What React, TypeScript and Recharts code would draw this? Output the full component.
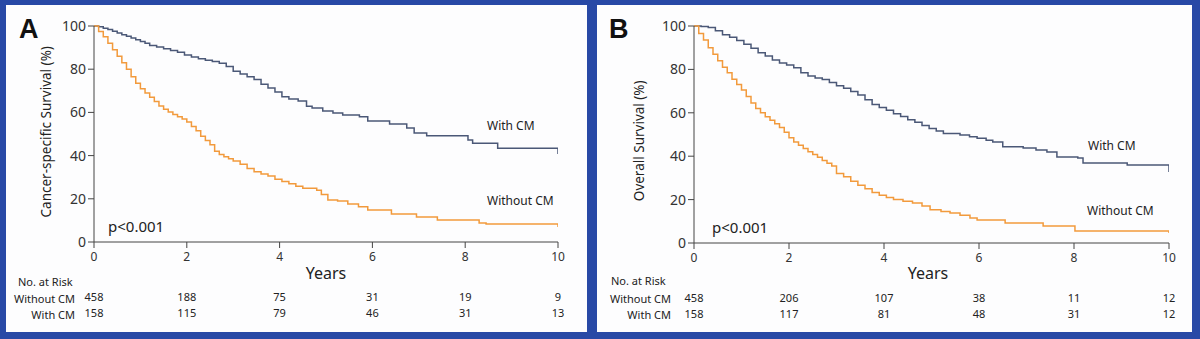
// Kaplan-Meier curves: cancer-specific (A) and overall (B) survival, with/without CM.

import { LineChart, Line, XAxis, YAxis } from 'recharts';

const yearTicks = [0, 2, 4, 6, 8, 10];
const pctTicks = [0, 20, 40, 60, 80, 100];

// Panel A: cancer-specific survival
const aWithT = [0, 0.1, 0.2, 0.3, 0.4, 0.5, 0.6, 0.7, 0.8, 0.9, 1.0, 1.1, 1.2, 1.35, 1.5, 1.65, 1.8, 1.95, 2.1, 2.25, 2.4, 2.55, 2.7, 2.85, 3.0, 3.15, 3.3, 3.45, 3.6, 3.75, 3.9, 4.05, 4.2, 4.4, 4.58, 4.7, 4.93, 5.15, 5.36, 5.72, 5.9, 6.37, 6.74, 6.9, 7.17, 8.06, 8.16, 8.7, 10];
const aWithS = [100, 99.6, 99, 98.4, 97.6, 96.8, 96, 95.2, 94.4, 93.6, 92.8, 92, 91, 90.3, 89.5, 88.6, 87.8, 86.6, 85.6, 84.8, 84.2, 83.6, 82.8, 81.3, 79, 77.8, 76.5, 75.2, 73, 71.3, 69.5, 67.2, 66.2, 65.3, 62.8, 62, 60.6, 59.7, 58.8, 58, 56, 54.6, 52.8, 50.5, 49.2, 47.2, 45.7, 43.4, 40.7];

const aWithoutT = [0, 0.1, 0.2, 0.3, 0.4, 0.5, 0.6, 0.7, 0.8, 0.9, 1.0, 1.1, 1.2, 1.3, 1.4, 1.5, 1.6, 1.7, 1.8, 1.9, 2.0, 2.1, 2.2, 2.3, 2.4, 2.5, 2.6, 2.7, 2.8, 2.9, 3.0, 3.15, 3.3, 3.45, 3.6, 3.75, 3.9, 4.05, 4.2, 4.35, 4.5, 4.8, 4.9, 5.04, 5.25, 5.47, 5.7, 5.9, 6.41, 6.95, 7.4, 8.3, 8.45, 10];
const aWithoutS = [100, 97.5, 95, 92, 89, 86, 83, 80, 76.5, 73.5, 71, 69, 67, 65, 63, 61.5, 60.2, 59, 58, 57, 55.5, 53.5, 51.5, 49, 47, 45, 42, 40.5, 39.5, 38.5, 37.5, 36, 34, 32.5, 31.5, 30.5, 29, 28, 27, 25.8, 24.9, 24, 22, 19.5, 19, 17.6, 16.3, 14.8, 13, 11.6, 10.2, 8.8, 8.3, 6.9];

const aRiskWithout = [458, 188, 75, 31, 19, 9];
const aRiskWith = [158, 115, 79, 46, 31, 13];

// Panel B: overall survival
const bWithT = [0, 0.15, 0.3, 0.45, 0.6, 0.75, 0.9, 1.05, 1.2, 1.35, 1.5, 1.65, 1.8, 1.95, 2.1, 2.25, 2.4, 2.55, 2.7, 2.85, 3.0, 3.15, 3.3, 3.45, 3.6, 3.75, 3.9, 4.05, 4.2, 4.35, 4.5, 4.65, 4.8, 4.95, 5.1, 5.25, 5.6, 5.8, 5.96, 6.15, 6.29, 6.5, 6.93, 7.2, 7.43, 7.64, 8.08, 8.19, 9.12, 10];
const bWithS = [100, 99.8, 99.3, 97.8, 96, 94.8, 93.3, 91.6, 89.8, 87.7, 86.2, 84.3, 83, 82, 80.8, 78.5, 77, 76, 75.3, 74, 72.5, 71.3, 69.8, 68.2, 66, 63.8, 62.5, 61.2, 59.6, 58.3, 56.8, 55.6, 54.2, 52.8, 51.6, 50.5, 49.8, 49, 48.3, 47.3, 46.5, 44.4, 43.8, 42.8, 41.9, 39.6, 39.2, 36.9, 35.9, 32.7];

const bWithoutT = [0, 0.1, 0.2, 0.3, 0.4, 0.5, 0.6, 0.7, 0.8, 0.9, 1.0, 1.1, 1.2, 1.3, 1.4, 1.5, 1.6, 1.7, 1.8, 1.9, 2.0, 2.1, 2.2, 2.3, 2.4, 2.5, 2.6, 2.7, 2.8, 2.9, 3.0, 3.15, 3.3, 3.45, 3.6, 3.75, 3.9, 4.05, 4.2, 4.4, 4.6, 4.8, 4.97, 5.2, 5.39, 5.6, 5.81, 5.96, 6.55, 7.35, 8.02, 10];
const bWithoutS = [100, 96.5, 93.5, 90, 87, 84, 81, 78.5, 75.5, 73, 70.5, 67.5, 64.5, 62, 60, 58.2, 56.6, 55, 53.2, 51, 48.5, 46.5, 45, 43.5, 42, 40.8, 39.5, 38, 36.8, 35.5, 32, 30.5, 28.5, 26.6, 25, 23.3, 22, 21, 20, 19.2, 18.4, 17, 15.3, 14.5, 13.8, 12.8, 11.5, 10.6, 9.2, 7.8, 5.5, 4.6];

const bRiskWithout = [458, 206, 107, 38, 11, 12];
const bRiskWith = [158, 117, 81, 48, 31, 12];

const BLUE_LINE = '#4b5877';
const ORANGE_LINE = '#f29a3c';
const AXIS = '#444';
const FONT = '"Noto Sans", sans-serif';

const toPoints = (ts: number[], ss: number[]) => ts.map((t, i) => ({ t, s: ss[i] }));

function makeTick(riskWithout: number[], riskWith: number[]) {
  return (props: any) => {
    const { x, y, payload } = props;
    const i = yearTicks.indexOf(payload.value);
    return (
      <g>
        <text x={x} y={y} dy={10} textAnchor="middle" fontSize={12} fill="#333" fontFamily={FONT}>
          {payload.value}
        </text>
        <text x={x} y={y} dy={50} textAnchor="middle" fontSize={11} fill="#222" fontFamily={FONT}>
          {riskWithout[i]}
        </text>
        <text x={x} y={y} dy={66} textAnchor="middle" fontSize={11} fill="#222" fontFamily={FONT}>
          {riskWith[i]}
        </text>
      </g>
    );
  };
}

interface PanelProps {
  left: number;
  marginRight: number;
  marginBottom: number;
  withData: { t: number; s: number }[];
  withoutData: { t: number; s: number }[];
  riskWithout: number[];
  riskWith: number[];
}

function KMChart({ left, marginRight, marginBottom, withData, withoutData, riskWithout, riskWith }: PanelProps) {
  return (
    <div style={{ position: 'absolute', left, top: 0 }}>
      <LineChart width={600} height={339} margin={{ top: 26, right: marginRight, bottom: marginBottom, left: 34 }}>
        <XAxis
          type="number"
          dataKey="t"
          domain={[0, 10]}
          ticks={yearTicks}
          allowDataOverflow
          height={30}
          stroke={AXIS}
          tickSize={6}
          tickMargin={3}
          tick={makeTick(riskWithout, riskWith)}
        />
        <YAxis
          type="number"
          dataKey="s"
          domain={[0, 100]}
          ticks={pctTicks}
          width={60}
          stroke={AXIS}
          tickSize={6}
          tickMargin={2}
          tick={{ fontSize: 14, fill: '#333', fontFamily: FONT }}
        />
        <Line data={withData} dataKey="s" type="stepAfter" stroke={BLUE_LINE} strokeWidth={1.5} dot={false} isAnimationActive={false} />
        <Line data={withoutData} dataKey="s" type="stepAfter" stroke={ORANGE_LINE} strokeWidth={1.5} dot={false} isAnimationActive={false} />
      </LineChart>
    </div>
  );
}

const txt = (left: number, centerY: number, size: number, content: string, extra: any = {}) => (
  <div
    style={{
      position: 'absolute',
      left,
      top: centerY - size / 2,
      fontSize: size,
      lineHeight: `${size}px`,
      fontFamily: FONT,
      color: '#222',
      whiteSpace: 'nowrap',
      ...extra,
    }}
  >
    {content}
  </div>
);

const rightTxt = (right: number, centerY: number, size: number, content: string) => (
  <div
    style={{
      position: 'absolute',
      left: 0,
      width: right,
      textAlign: 'right',
      top: centerY - size / 2,
      fontSize: size,
      lineHeight: `${size}px`,
      fontFamily: FONT,
      color: '#222',
      whiteSpace: 'nowrap',
    }}
  >
    {content}
  </div>
);

const vertTxt = (centerX: number, centerY: number, size: number, content: string) => (
  <div
    style={{
      position: 'absolute',
      left: centerX - 150,
      top: centerY - size / 2,
      width: 300,
      textAlign: 'center',
      fontSize: size,
      lineHeight: `${size}px`,
      fontFamily: FONT,
      color: '#222',
      transform: 'rotate(-90deg)',
      whiteSpace: 'nowrap',
    }}
  >
    {content}
  </div>
);

const centerTxt = (centerX: number, centerY: number, size: number, content: string) => (
  <div
    style={{
      position: 'absolute',
      left: centerX - 50,
      width: 100,
      textAlign: 'center',
      top: centerY - size / 2,
      fontSize: size,
      lineHeight: `${size}px`,
      fontFamily: FONT,
      color: '#222',
    }}
  >
    {content}
  </div>
);

export default function App() {
  return (
    <div style={{ position: 'absolute', left: 0, top: 0, width: 1200, height: 339, background: '#2849a6', overflow: 'hidden' }}>
      <div style={{ position: 'absolute', left: 6, top: 5, width: 581, height: 327, background: '#fdfdfe' }} />
      <div style={{ position: 'absolute', left: 597, top: 5, width: 595, height: 327, background: '#fdfdfe' }} />

      <KMChart
        left={0}
        marginRight={42}
        marginBottom={67}
        withData={toPoints(aWithT, aWithS)}
        withoutData={toPoints(aWithoutT, aWithoutS)}
        riskWithout={aRiskWithout}
        riskWith={aRiskWith}
      />
      <KMChart
        left={600}
        marginRight={31}
        marginBottom={66}
        withData={toPoints(bWithT, bWithS)}
        withoutData={toPoints(bWithoutT, bWithoutS)}
        riskWithout={bRiskWithout}
        riskWith={bRiskWith}
      />

      {/* Panel A annotations */}
      {txt(19, 29, 27, 'A', { fontFamily: '"Liberation Sans", Arial, sans-serif', fontWeight: 'bold', color: '#111' })}
      {vertTxt(47, 132, 13.5, 'Cancer-specific Survival (%)')}
      {txt(108, 226, 15, 'p<0.001')}
      {txt(487, 126, 12, 'With CM')}
      {txt(487, 201, 12, 'Without CM')}
      {centerTxt(326, 273, 16, 'Years')}
      {txt(18, 281, 11, 'No. at Risk')}
      {rightTxt(75, 298, 11, 'Without CM')}
      {rightTxt(75, 314, 11, 'With CM')}

      {/* Panel B annotations */}
      {txt(609, 29, 27, 'B', { fontFamily: '"Liberation Sans", Arial, sans-serif', fontWeight: 'bold', color: '#111' })}
      {vertTxt(640, 141, 13.5, 'Overall Survival (%)')}
      {txt(712, 227, 15, 'p<0.001')}
      {txt(1088, 146, 12, 'With CM')}
      {txt(1087, 211, 12, 'Without CM')}
      {centerTxt(928, 273, 16, 'Years')}
      {txt(611, 280, 11, 'No. at Risk')}
      {rightTxt(671, 298, 11, 'Without CM')}
      {rightTxt(671, 314, 11, 'With CM')}
    </div>
  );
}
